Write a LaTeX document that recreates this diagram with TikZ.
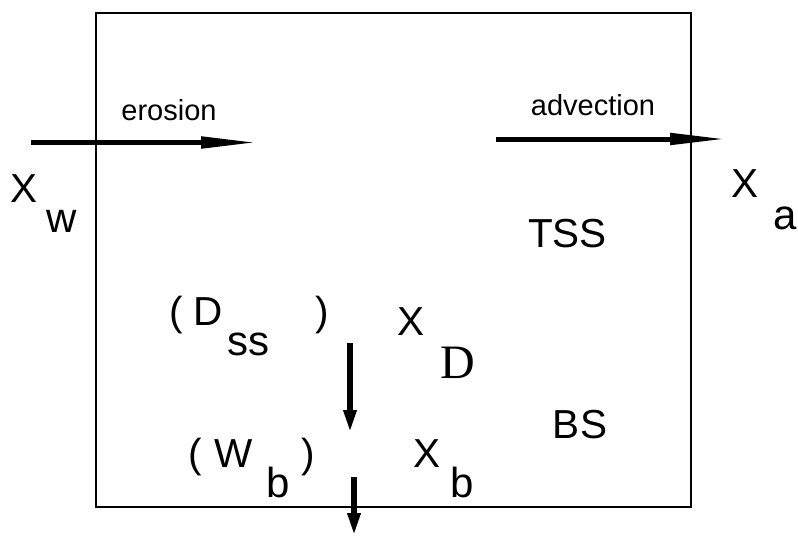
\documentclass[tikz,border=0pt]{standalone}
\usepackage{fontspec}
\setmainfont{Liberation Sans}
\newfontfamily\timesfont{Liberation Serif}
\usetikzlibrary{arrows.meta}
\begin{document}
\begin{tikzpicture}[x=1pt,y=-1pt,
  lbl/.style={inner sep=0pt,anchor=base,font=\fontsize{40.5}{44}\selectfont},
  sub/.style={inner sep=0pt,anchor=base,font=\fontsize{42}{45}\selectfont},
  small/.style={inner sep=0pt,anchor=base,font=\fontsize{29}{32}\selectfont},
  flux/.style={line width=5pt,-{Triangle[length=57pt,width=11pt]}},
  vflux/.style={line width=6pt,-{Triangle[length=23pt,width=12pt]}}]
\useasboundingbox (0,0) rectangle (798,536);
% control volume
\draw[line width=1.1pt] (96,13) rectangle (691,507);
% horizontal fluxes
\coordinate (ero0) at (31,142.5);
\coordinate (ero1) at (258,142.5);
\coordinate (adv0) at (496,139);
\coordinate (adv1) at (727,139);
\draw[flux] (ero0) -- (ero1);
\draw[flux] (adv0) -- (adv1);
\node[small] (ero) at (169,120) {erosion};
\node[small] (adv) at (593,115) {advection};
% inflow and outflow labels
\node[lbl] (Xw) at (24.5,202) {X};
\node[sub] (w) at (62,232) {w};
\node[lbl] (Xa) at (744.5,197) {X};
\node[sub] (a) at (785,229) {a};
% compartments
\node[lbl] (tss) at (567.5,247) {TSS};
\node[lbl] (bs) at (580,438) {BS};
% deposition
\node[lbl] (lp1) at (176,325) {(};
\node[lbl] (D) at (208,325) {D};
\node[sub] (ss) at (248.5,355) {ss};
\node[lbl] (rp1) at (322,325) {)};
\node[lbl] (XD) at (411,335) {X};
\node[inner sep=0pt,anchor=base,font=\timesfont\fontsize{48}{50}\selectfont] (DD) at (457.5,378) {D};
% burial
\node[lbl] (lp2) at (195,467) {(};
\node[lbl] (W) at (234,467) {W};
\node[sub] (b1) at (278,497) {b};
\node[lbl] (rp2) at (308,467) {)};
\node[lbl] (Xb) at (427.5,467) {X};
\node[sub] (b2) at (462.5,497) {b};
% vertical fluxes
\coordinate (dep0) at (350,343);
\coordinate (dep1) at (350,433);
\coordinate (bur0) at (354,477);
\coordinate (bur1) at (354,536);
\draw[vflux] (dep0) -- (dep1);
\draw[vflux] (bur0) -- (bur1);
\end{tikzpicture}
\end{document}
